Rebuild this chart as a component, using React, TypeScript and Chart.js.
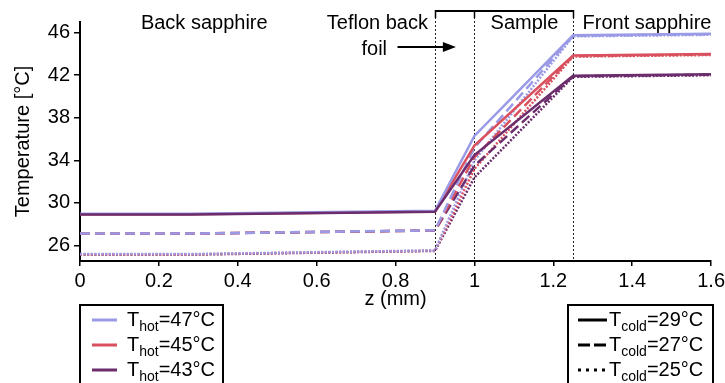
import React, { useEffect, useRef } from 'react';
import { Chart, registerables } from 'chart.js';

Chart.register(...registerables);

// Depth through the stack (mm)
const zPositions = [0, 0.28, 0.9, 1.0, 1.25, 1.6];

// Temperature profiles [°C] for each hot / cold boundary combination
const hot47cold29 = [29.0, 29.0, 29.26, 36.3, 45.75, 45.9];
const hot47cold27 = [27.13, 27.13, 27.43, 35.2, 45.7, 45.85];
const hot47cold25 = [25.2, 25.2, 25.55, 34.0, 45.65, 45.8];
const hot45cold29 = [28.95, 28.95, 29.2, 35.4, 43.85, 44.0];
const hot45cold27 = [27.13, 27.13, 27.42, 34.3, 43.8, 43.95];
const hot45cold25 = [25.17, 25.17, 25.52, 33.2, 43.75, 43.9];
const hot43cold29 = [28.92, 28.92, 29.17, 34.5, 41.95, 42.1];
const hot43cold27 = [27.12, 27.12, 27.41, 33.5, 41.9, 42.05];
const hot43cold25 = [25.15, 25.15, 25.5, 32.4, 41.85, 42.0];

// Layer boundaries (mm): foil start, sample start, sample end
const boundaries = [0.9, 1.0, 1.25];

const yTicks = [26, 28, 30, 32, 34, 36, 38, 40, 42, 44, 46];
const yLabelled = [26, 30, 34, 38, 42, 46];

const hotLabels = ['47°C', '45°C', '43°C'];
const coldLabels = ['29°C', '27°C', '25°C'];

const BLUE = '#9a9ae6';
const RED = '#d9505e';
const PURPLE = '#6c2d6c';
const hotColors = [BLUE, RED, PURPLE];

const SOLID: number[] = [];
const DASHED = [10, 5];
const DOTTED = [2, 1.6];

const FONT = '"Liberation Sans", Arial, Helvetica, sans-serif';

// Chart.js paints the first dataset on top
const series = [
  { data: hot43cold29, color: PURPLE, dash: SOLID },
  { data: hot47cold29, color: BLUE, dash: SOLID },
  { data: hot45cold29, color: RED, dash: SOLID },
  { data: hot47cold27, color: BLUE, dash: DASHED },
  { data: hot45cold27, color: RED, dash: DASHED },
  { data: hot43cold27, color: PURPLE, dash: DASHED },
  { data: hot47cold25, color: BLUE, dash: DOTTED },
  { data: hot45cold25, color: RED, dash: DOTTED },
  { data: hot43cold25, color: PURPLE, dash: DOTTED },
];

function drawSubscripted(ctx: CanvasRenderingContext2D, x: number, y: number, main: string, sub: string, rest: string) {
  ctx.textAlign = 'left';
  ctx.textBaseline = 'alphabetic';
  ctx.font = `20px ${FONT}`;
  ctx.fillText(main, x, y);
  x += ctx.measureText(main).width;
  ctx.font = `14px ${FONT}`;
  ctx.fillText(sub, x, y + 5);
  x += ctx.measureText(sub).width;
  ctx.font = `20px ${FONT}`;
  ctx.fillText('=' + rest, x, y);
}

const layerAnnotations = {
  id: 'layerAnnotations',
  beforeDatasetsDraw(chart: any) {
    const { ctx, chartArea } = chart;
    const x = chart.scales.x;
    ctx.save();
    ctx.strokeStyle = '#222';
    ctx.lineWidth = 1;
    ctx.setLineDash([2, 2]);
    for (const z of boundaries) {
      const px = Math.round(x.getPixelForValue(z)) + 0.5;
      ctx.beginPath();
      ctx.moveTo(px, 17);
      ctx.lineTo(px, chartArea.bottom);
      ctx.stroke();
    }
    ctx.restore();
  },
  afterDraw(chart: any) {
    const { ctx } = chart;
    const x = chart.scales.x;
    ctx.save();
    ctx.fillStyle = '#000';
    ctx.strokeStyle = '#000';

    // bracket over the foil and sample
    const bx = boundaries.map((z) => Math.round(x.getPixelForValue(z)) + 0.5);
    ctx.lineWidth = 2;
    ctx.beginPath();
    ctx.moveTo(bx[0], 11);
    ctx.lineTo(bx[2], 11);
    ctx.stroke();
    ctx.lineWidth = 1.5;
    for (const px of bx) {
      ctx.beginPath();
      ctx.moveTo(px, 10);
      ctx.lineTo(px, 18);
      ctx.stroke();
    }

    // layer names
    ctx.font = `20px ${FONT}`;
    ctx.textBaseline = 'alphabetic';
    ctx.textAlign = 'center';
    ctx.fillText('Back sapphire', x.getPixelForValue(0.315), 29);
    ctx.fillText('Teflon back', x.getPixelForValue(0.754), 29);
    ctx.fillText('foil', x.getPixelForValue(0.746), 55);
    ctx.fillText('Sample', x.getPixelForValue(1.127), 29);
    ctx.textAlign = 'left';
    ctx.fillText('Front sapphire', x.getPixelForValue(1.274), 29);

    // arrow pointing at the foil
    const ax0 = x.getPixelForValue(0.805);
    const ax1 = x.getPixelForValue(0.953);
    const ay = 47;
    ctx.lineWidth = 2;
    ctx.beginPath();
    ctx.moveTo(ax0, ay);
    ctx.lineTo(ax1 - 10, ay);
    ctx.stroke();
    ctx.beginPath();
    ctx.moveTo(ax1, ay);
    ctx.lineTo(ax1 - 13, ay - 5);
    ctx.lineTo(ax1 - 13, ay + 5);
    ctx.closePath();
    ctx.fill();

    // hot-side legend
    ctx.lineWidth = 2;
    ctx.setLineDash([]);
    ctx.strokeRect(80, 305, 143, 100);
    hotLabels.forEach((lab, i) => {
      const cy = 320 + i * 25;
      ctx.strokeStyle = hotColors[i];
      ctx.lineWidth = 3;
      ctx.beginPath();
      ctx.moveTo(92, cy);
      ctx.lineTo(117, cy);
      ctx.stroke();
      ctx.fillStyle = '#000';
      drawSubscripted(ctx, 127, cy + 6, 'T', 'hot', lab);
    });

    // cold-side legend
    ctx.strokeStyle = '#000';
    ctx.lineWidth = 2;
    ctx.strokeRect(568, 305, 145, 100);
    const legendDashes = [[], [12, 4], [3, 5]];
    coldLabels.forEach((lab, i) => {
      const cy = 320 + i * 25;
      ctx.strokeStyle = '#000';
      ctx.lineWidth = 3;
      ctx.setLineDash(legendDashes[i]);
      ctx.beginPath();
      ctx.moveTo(578, cy);
      ctx.lineTo(607, cy);
      ctx.stroke();
      ctx.setLineDash([]);
      ctx.fillStyle = '#000';
      drawSubscripted(ctx, 609, cy + 6, 'T', 'cold', lab);
    });

    ctx.restore();
  },
};

export default function App() {
  const canvasRef = useRef<HTMLCanvasElement | null>(null);

  useEffect(() => {
    if (!canvasRef.current) return;
    const chart = new Chart(canvasRef.current, {
      type: 'line',
      data: {
        datasets: series.map((s) => ({
          data: s.data.map((v, i) => ({ x: zPositions[i], y: v })),
          borderColor: s.color,
          backgroundColor: s.color,
          borderWidth: 2.5,
          borderDash: s.dash,
          pointRadius: 0,
          tension: 0,
          fill: false,
        })),
      },
      options: {
        animation: false,
        responsive: false,
        devicePixelRatio: 1,
        layout: { padding: { top: 22, right: 12, bottom: 72, left: 0 } },
        plugins: { legend: { display: false }, tooltip: { enabled: false }, title: { display: false } },
        scales: {
          x: {
            type: 'linear',
            min: 0,
            max: 1.6,
            ticks: {
              stepSize: 0.2,
              color: '#000',
              font: { size: 20, family: FONT, lineHeight: 1.5 },
              padding: 0,
              maxRotation: 0,
              callback: (v: any) => String(Number(Number(v).toFixed(1))),
            },
            grid: { drawOnChartArea: false, drawTicks: true, tickLength: 5, color: '#000', lineWidth: 1.5 },
            border: { color: '#000', width: 2 },
            title: { display: true, text: 'z (mm)', color: '#000', font: { size: 20, family: FONT }, padding: { top: 0, bottom: 0 } },
            afterFit: (s: any) => {
              s.height = 50;
            },
          },
          y: {
            type: 'linear',
            min: 24.55,
            max: 47,
            afterBuildTicks: (s: any) => {
              s.ticks = yTicks.map((v) => ({ value: v }));
            },
            ticks: {
              color: '#000',
              font: { size: 20, family: FONT },
              padding: 4,
              callback: (v: any) => (yLabelled.includes(Number(v)) ? String(v) : ''),
            },
            grid: { drawOnChartArea: false, drawTicks: true, tickLength: 6, color: '#000', lineWidth: 1.5 },
            border: { color: '#000', width: 2 },
            title: { display: true, text: 'Temperature [°C]', color: '#000', font: { size: 20, family: FONT }, padding: { top: 11, bottom: 0 } },
            afterFit: (s: any) => {
              s.width = 80;
            },
          },
        },
      },
      plugins: [layerAnnotations],
    } as any);
    return () => chart.destroy();
  }, []);

  return (
    <div style={{ position: 'absolute', left: 0, top: 0, width: 725, height: 383, background: '#fff' }}>
      <canvas ref={canvasRef} width={725} height={383} />
    </div>
  );
}
